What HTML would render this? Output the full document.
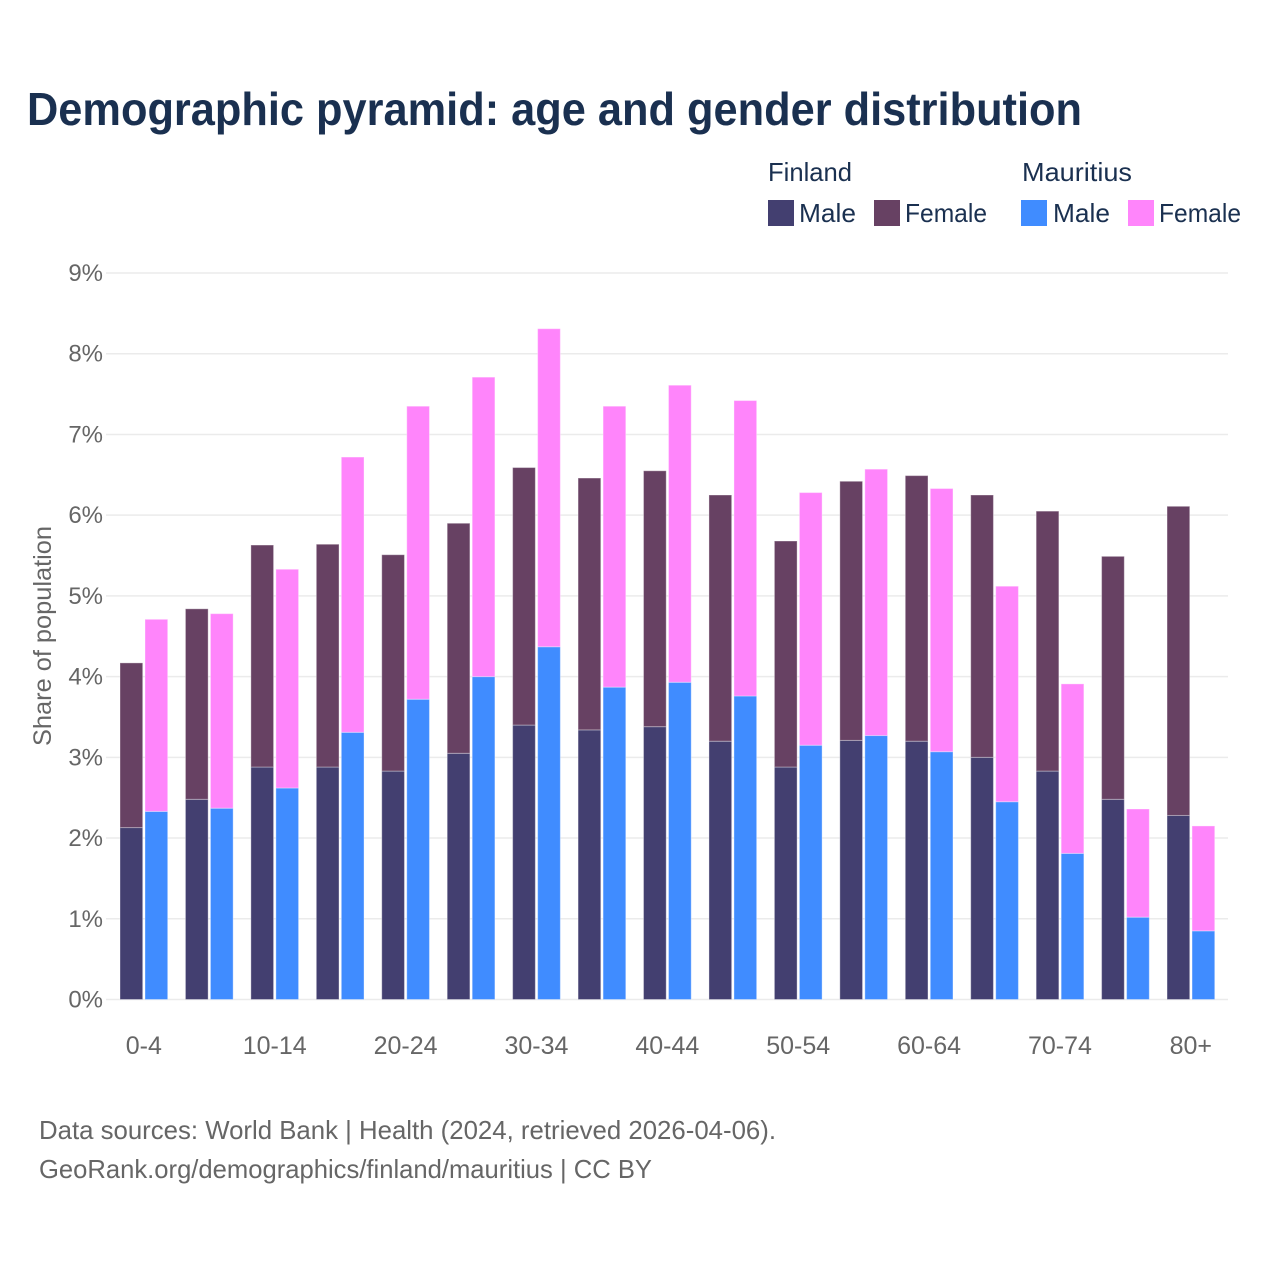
<!DOCTYPE html>
<html lang="en">
<head>
<meta charset="utf-8">
<title>Demographic pyramid</title>
<style>
html,body{margin:0;padding:0;background:#fff;}
svg{display:block;font-family:"Liberation Sans",sans-serif;}
</style>
</head>
<body>
<svg id="chart" width="1280" height="1280" viewBox="0 0 1280 1280" xmlns="http://www.w3.org/2000/svg">
  <rect x="0" y="0" width="1280" height="1280" fill="#ffffff"/>
  <text x="27" y="125" font-size="46" font-weight="700" fill="#1a3050" textLength="1055" lengthAdjust="spacingAndGlyphs">Demographic pyramid: age and gender distribution</text>

  <g font-size="26" fill="#1a3050">
    <text x="768" y="181" textLength="84" lengthAdjust="spacingAndGlyphs">Finland</text>
    <text x="1022" y="181" textLength="110" lengthAdjust="spacingAndGlyphs">Mauritius</text>
    <rect x="768" y="200" width="26" height="26" fill="#433f70"/>
    <text x="799" y="222" textLength="57" lengthAdjust="spacingAndGlyphs">Male</text>
    <rect x="874" y="200" width="26" height="26" fill="#674163"/>
    <text x="905" y="222" textLength="82" lengthAdjust="spacingAndGlyphs">Female</text>
    <rect x="1021" y="200" width="26" height="26" fill="#408cff"/>
    <text x="1053" y="222" textLength="57" lengthAdjust="spacingAndGlyphs">Male</text>
    <rect x="1128" y="200" width="26" height="26" fill="#ff85fb"/>
    <text x="1159" y="222" textLength="82" lengthAdjust="spacingAndGlyphs">Female</text>
  </g>

  <g id="grid"></g>
  <g id="y-ticks"></g>
  <g id="bars"></g>
  <g id="x-ticks"></g>

  <text transform="translate(51,746) rotate(-90)" x="0" y="0" font-size="25" fill="#666666" textLength="220" lengthAdjust="spacingAndGlyphs">Share of population</text>

  <text x="39" y="1139" font-size="26" fill="#666666" textLength="737" lengthAdjust="spacingAndGlyphs">Data sources: World Bank | Health (2024, retrieved 2026-04-06).</text>
  <text x="39" y="1178" font-size="26" fill="#666666" textLength="613" lengthAdjust="spacingAndGlyphs">GeoRank.org/demographics/finland/mauritius | CC BY</text>
</svg>
<script>
const categories = ["0-4","5-9","10-14","15-19","20-24","25-29","30-34","35-39","40-44","45-49","50-54","55-59","60-64","65-69","70-74","75-79","80+"];
const xTickLabels = ["0-4","10-14","20-24","30-34","40-44","50-54","60-64","70-74","80+"];
const yTicks = [0,1,2,3,4,5,6,7,8,9];
const finlandMale = [2.13,2.48,2.88,2.88,2.83,3.05,3.40,3.34,3.38,3.20,2.88,3.21,3.20,3.00,2.83,2.48,2.28];
const finlandFemale = [2.04,2.36,2.75,2.76,2.68,2.85,3.19,3.12,3.17,3.05,2.80,3.21,3.29,3.25,3.22,3.01,3.83];
const mauritiusMale = [2.33,2.37,2.62,3.31,3.72,4.00,4.37,3.87,3.93,3.76,3.15,3.27,3.07,2.45,1.81,1.02,0.85];
const mauritiusFemale = [2.38,2.41,2.71,3.41,3.63,3.71,3.94,3.48,3.68,3.66,3.13,3.30,3.26,2.67,2.10,1.34,1.30];

const NS = "http://www.w3.org/2000/svg";
const yScale = v => 999.5 - v * 80.72;
const xScale = i => 120 + i * 65.44;
const barWidth = 22.7;
const barOffset = 25;

function makeEl(tag, parent) {
  const el = document.createElementNS(NS, tag);
  parent.appendChild(el);
  return el;
}

const gridGroup = document.getElementById("grid");
const yTickGroup = document.getElementById("y-ticks");
yTicks.forEach(t => {
  const line = makeEl("line", gridGroup);
  
  
  line.setAttribute("x1", 106);
  line.setAttribute("x2", 1228);
  line.setAttribute("y1", yScale(t));
  line.setAttribute("y2", yScale(t));
  line.setAttribute("stroke", "#ebebeb");
  line.setAttribute("stroke-width", 1.5);
  const label = makeEl("text", yTickGroup);
  
  
  label.setAttribute("x", 103);
  label.setAttribute("y", yScale(t) + 8);
  label.setAttribute("text-anchor", "end");
  label.setAttribute("font-size", 24);
  label.setAttribute("fill", "#666666");
  label.textContent = t + "%";
});

const barGroup = document.getElementById("bars");
function drawBar(x, base, value, color) {
  const rect = makeEl("rect", barGroup);
  
  
  rect.setAttribute("x", x);
  rect.setAttribute("y", yScale(base + value));
  rect.setAttribute("width", barWidth);
  rect.setAttribute("height", yScale(base) - yScale(base + value));
  rect.setAttribute("fill", color);
  rect.setAttribute("stroke", "#ffffff");
  rect.setAttribute("stroke-opacity", "0.35");
  rect.setAttribute("stroke-width", "1");
}
categories.forEach((c, i) => {
  drawBar(xScale(i), 0, finlandMale[i], "#433f70");
  drawBar(xScale(i), finlandMale[i], finlandFemale[i], "#674163");
  drawBar(xScale(i) + barOffset, 0, mauritiusMale[i], "#408cff");
  drawBar(xScale(i) + barOffset, mauritiusMale[i], mauritiusFemale[i], "#ff85fb");
});

const xTickGroup = document.getElementById("x-ticks");
xTickLabels.forEach(name => {
  const i = categories.indexOf(name);
  const label = makeEl("text", xTickGroup);
  
  
  label.setAttribute("x", xScale(i) + 23.8);
  label.setAttribute("y", 1054);
  label.setAttribute("text-anchor", "middle");
  label.setAttribute("font-size", 25);
  label.setAttribute("fill", "#666666");
  label.textContent = name;
});
</script>
</body>
</html>
